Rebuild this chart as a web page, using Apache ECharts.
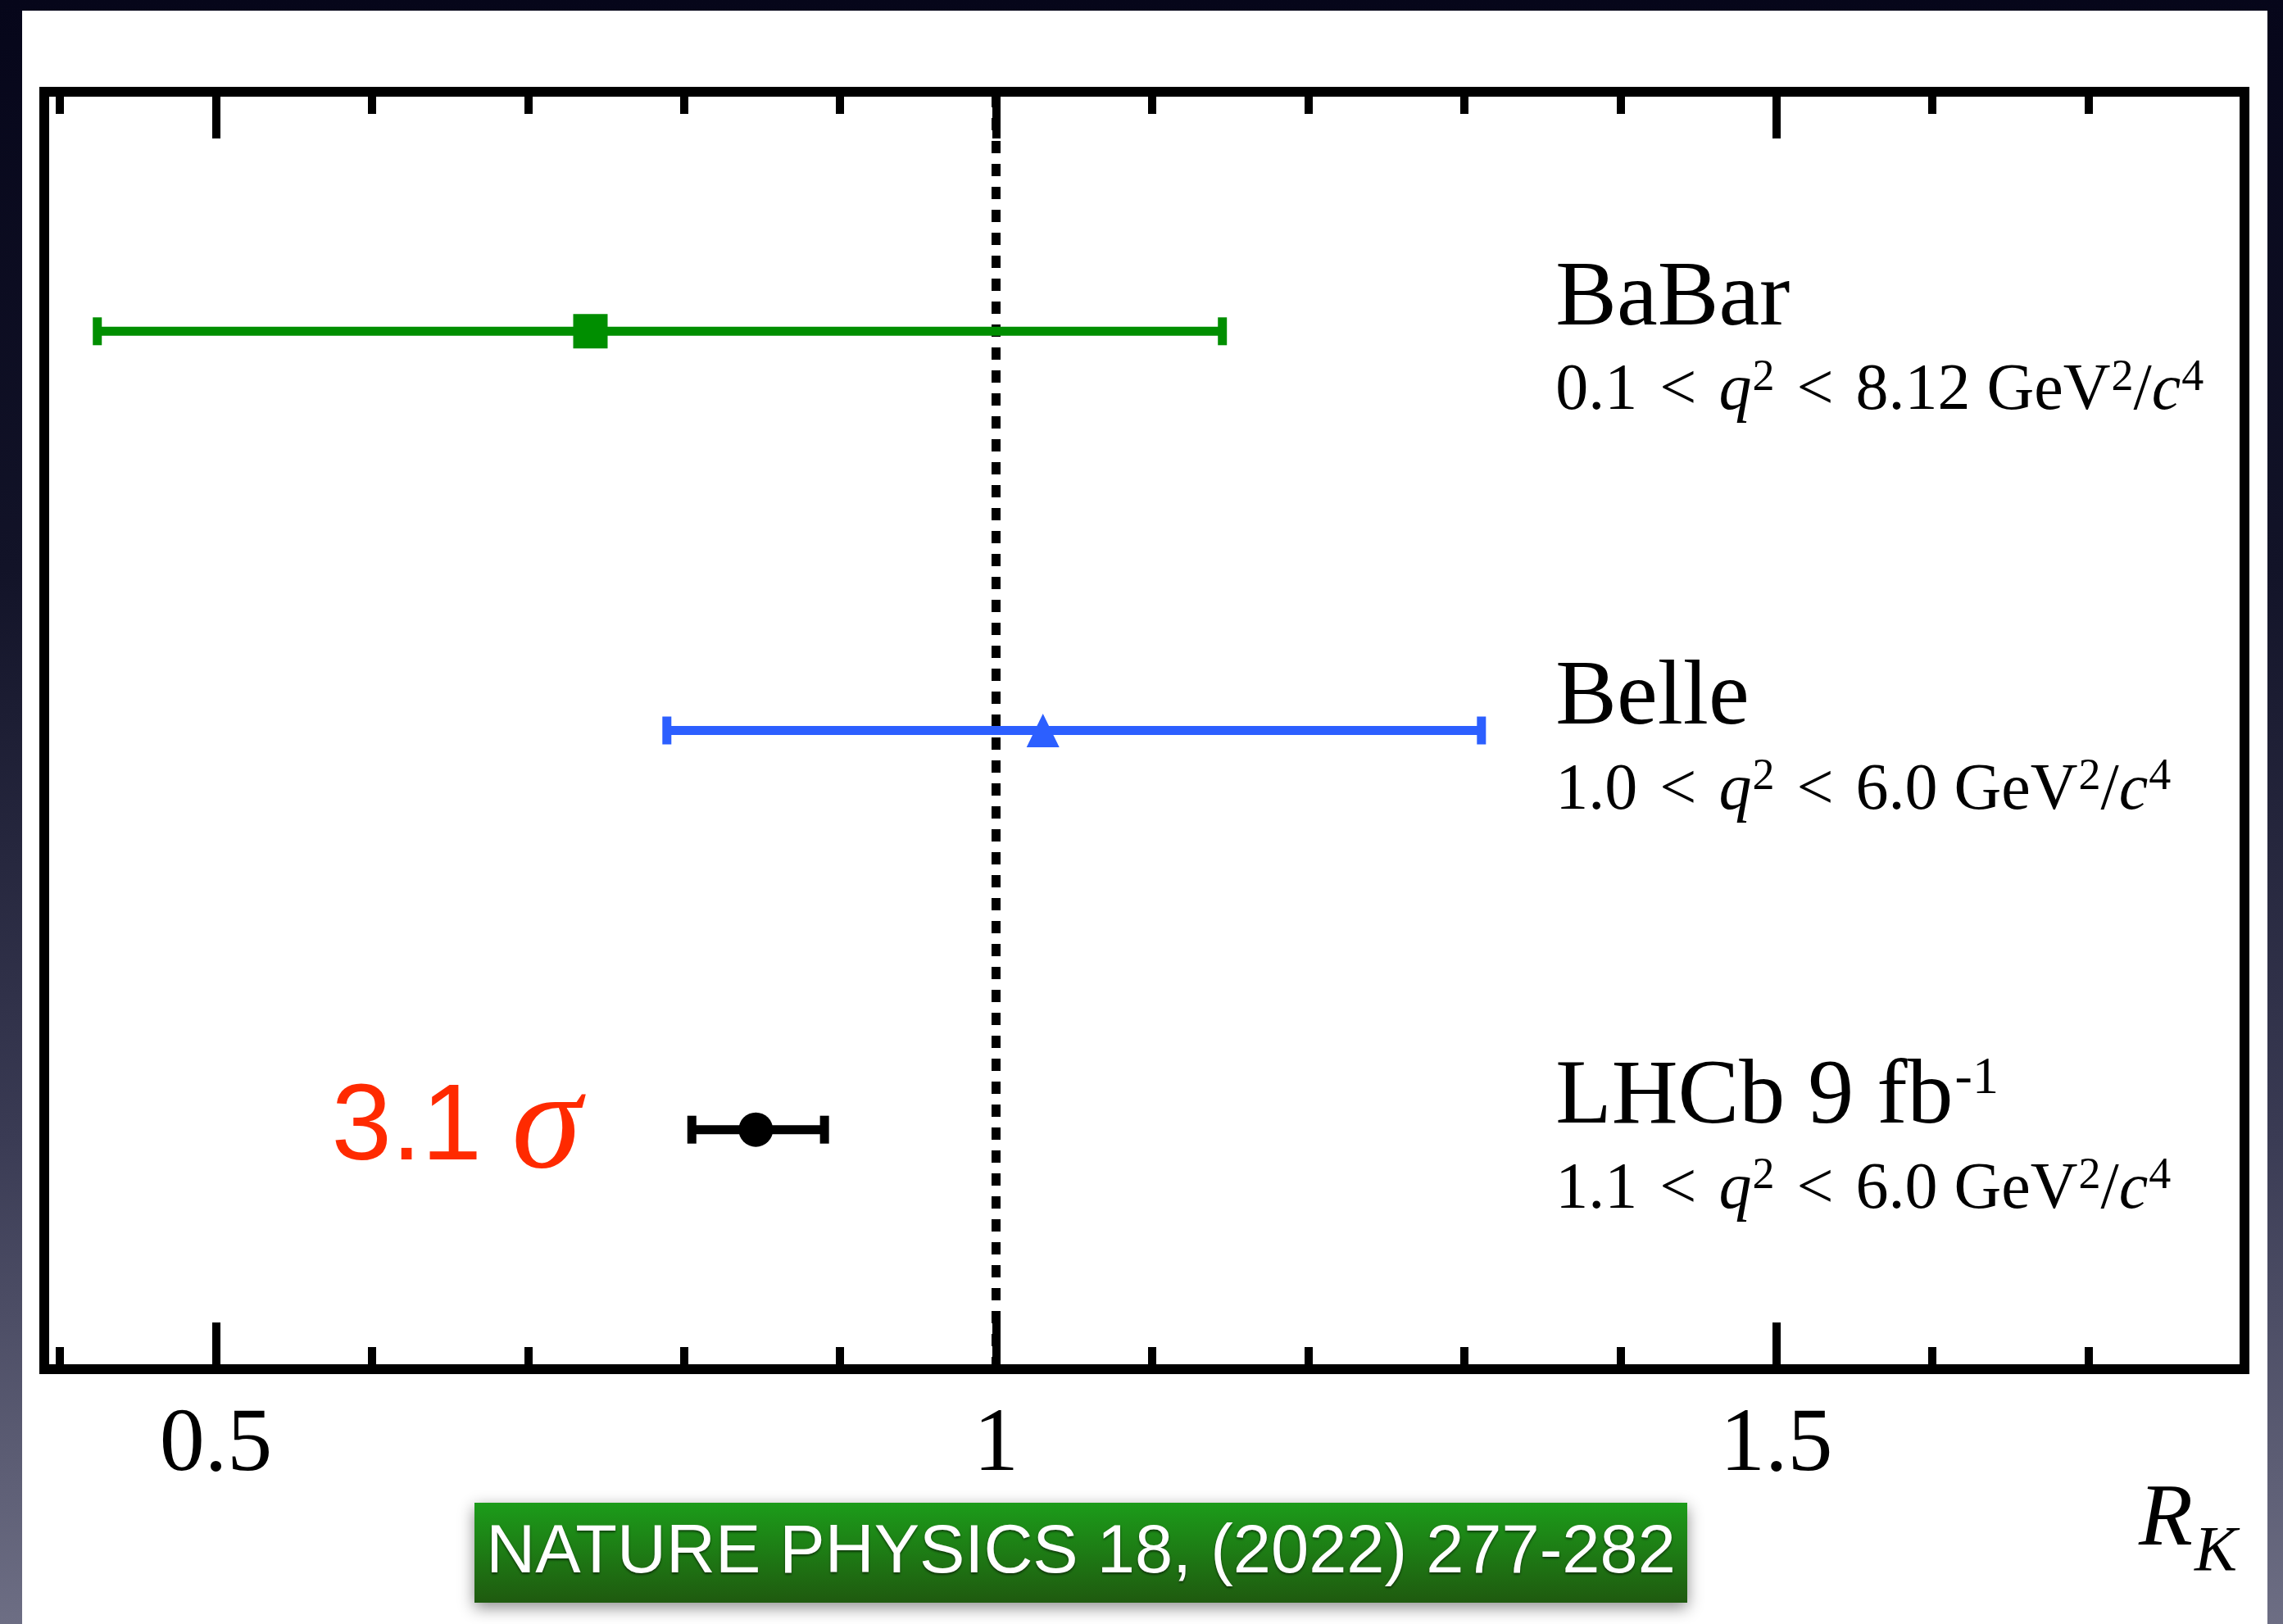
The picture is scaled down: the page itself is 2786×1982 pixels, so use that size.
<!DOCTYPE html>
<html>
<head>
<meta charset="utf-8">
<script src="https://cdn.jsdelivr.net/npm/echarts@6/dist/echarts.min.js"></script>
<style>
  html, body { margin: 0; padding: 0; }
  body {
    width: 2786px; height: 1982px; overflow: hidden; position: relative;
    background: linear-gradient(180deg, #06061a 0%, #121328 35%, #3a3b54 70%, #6d6e84 100%);
  }
  #paper { position: absolute; left: 27px; top: 13px; width: 2740px; height: 1969px; background: #ffffff; }
  #chart { position: absolute; left: 0; top: 0; width: 2786px; height: 1982px; }
</style>
</head>
<body>
<div id="paper"></div>
<div id="chart"></div>
<script>
// ---------------- data ----------------
const experiments = ['BaBar', 'Belle', 'LHCb'];
const rowPos = [3, 2, 1];
const centralRK = [0.740, 1.030, 0.846];
const lowRK = [0.424, 0.789, 0.805];
const highRK = [1.145, 1.311, 0.890];

const titleLabels = ['{t|BaBar}', '{t|Belle}', '{t|LHCb 9 fb}{tp|-1}'];
const rangeLabels = [
  '{n|0.1}{lt|<}{i|q}{s|2}{lt|<}{n|8.12 GeV}{s|2}{n|/}{i|c}{s|4}',
  '{n|1.0}{lt|<}{i|q}{s|2}{lt|<}{n|6.0 GeV}{s|2}{n|/}{i|c}{s|4}',
  '{n|1.1}{lt|<}{i|q}{s|2}{lt|<}{n|6.0 GeV}{s|2}{n|/}{i|c}{s|4}'
];
const labelX = 1.3585;
const sigmaText = '{d|3.1 }{g|σ}';
const sigmaAnchor = [0.574, 1];
const referenceValue = 1;

const majorTicks = [0.5, 1, 1.5];
const minorTicks = [0.4, 0.6, 0.7, 0.8, 0.9, 1.1, 1.2, 1.3, 1.4, 1.6, 1.7];
const xMin = 0.39, xMax = 1.8;
const yMin = 0.4, yMax = 3.6;

const bannerText = 'NATURE PHYSICS 18, (2022) 277-282';

// ---------------- styles ----------------
const markerColors = ['#008e00', '#2c5fff', '#000000'];
const markerSymbols = ['rect', 'triangle', 'circle'];
const markerSizes = [[42, 42], [40, 41], [42, 42]];
const SERIF = '"Liberation Serif", "Times New Roman", serif';
const SANS = '"Liberation Sans", Arial, sans-serif';

function xAxisCfg(pos, ticks, len, withLabel) {
  return {
    type: 'value', position: pos, min: xMin, max: xMax,
    axisLine: { show: false },
    splitLine: { show: false },
    axisTick: { show: true, inside: true, length: len, customValues: ticks,
                lineStyle: { color: '#000', width: 10, cap: 'butt' } },
    axisLabel: withLabel ? {
      show: true, customValues: ticks, margin: 39, color: '#000',
      fontFamily: SERIF, fontSize: 110
    } : { show: false }
  };
}

const bottomMajor = xAxisCfg('bottom', majorTicks, 57, true);
bottomMajor.name = '{r|R}{k|K}';
bottomMajor.nameLocation = 'end';
bottomMajor.nameGap = -9;
bottomMajor.nameTextStyle = {
  align: 'right', verticalAlign: 'top', padding: [132, 0, 0, 0],
  rich: {
    r: { fontFamily: SERIF, fontStyle: 'italic', fontSize: 108, lineHeight: 106, color: '#000', verticalAlign: 'top' },
    k: { fontFamily: SERIF, fontStyle: 'italic', fontSize: 78, lineHeight: 184, color: '#000', verticalAlign: 'middle', padding: [0, 0, 0, 2] }
  }
};

const chart = echarts.init(document.getElementById('chart'), null, { renderer: 'canvas' });

const option = {
  backgroundColor: 'transparent',
  animation: false,
  grid: {
    left: 54, right: 47, top: 112, bottom: 311, show: true,
    borderColor: '#000', borderWidth: 12, backgroundColor: 'transparent', containLabel: false
  },
  xAxis: [
    bottomMajor,
    xAxisCfg('bottom', minorTicks, 27, false),
    xAxisCfg('top', majorTicks, 57, false),
    xAxisCfg('top', minorTicks, 27, false)
  ],
  yAxis: { type: 'value', min: yMin, max: yMax, show: false, splitLine: { show: false } },
  series: [
    {
      name: 'errors', type: 'custom', xAxisIndex: 0, z: 3,
      data: experiments.map((e, i) => [lowRK[i], highRK[i], rowPos[i], i]),
      renderItem: function (params, api) {
        const a = api.coord([api.value(0), api.value(2)]);
        const b = api.coord([api.value(1), api.value(2)]);
        const col = markerColors[api.value(3)];
        const half = 17;
        const st = { stroke: col, lineWidth: 11, lineCap: 'butt' };
        return {
          type: 'group',
          children: [
            { type: 'line', shape: { x1: a[0], y1: a[1], x2: b[0], y2: b[1] }, style: st },
            { type: 'line', shape: { x1: a[0], y1: a[1] - half, x2: a[0], y2: a[1] + half }, style: st },
            { type: 'line', shape: { x1: b[0], y1: b[1] - half, x2: b[0], y2: b[1] + half }, style: st }
          ]
        };
      },
      markLine: {
        silent: true, symbol: ['none', 'none'], z: 1,
        label: { show: false },
        lineStyle: { color: '#000', width: 11, type: [15, 13], opacity: 1 },
        data: [{ xAxis: referenceValue }]
      }
    },
    {
      name: 'central', type: 'scatter', xAxisIndex: 0, z: 4,
      itemStyle: { opacity: 1 },
      data: experiments.map((e, i) => ({
        value: [centralRK[i], rowPos[i]],
        symbol: markerSymbols[i],
        symbolSize: markerSizes[i],
        itemStyle: { color: markerColors[i], opacity: 1 }
      }))
    },
    {
      name: 'labels', type: 'scatter', xAxisIndex: 0, z: 5, symbolSize: 0, silent: true,
      itemStyle: { opacity: 1 },
      data: experiments.map((e, i) => [labelX, rowPos[i]]),
      label: {
        show: true, position: 'right', distance: 0, offset: [0, 18],
        formatter: function (p) { return titleLabels[p.dataIndex] + '\n' + rangeLabels[p.dataIndex]; },
        rich: {
          t: { fontFamily: SERIF, fontSize: 112, lineHeight: 112, color: '#000', verticalAlign: 'middle' },
          tp: { fontFamily: SERIF, fontSize: 64, lineHeight: 46, color: '#000', verticalAlign: 'top', padding: [0, 0, 0, 2] },
          n: { fontFamily: SERIF, fontSize: 80, lineHeight: 112, color: '#000', verticalAlign: 'middle' },
          lt: { fontFamily: SERIF, fontSize: 80, lineHeight: 112, color: '#000', verticalAlign: 'middle', padding: [0, 27, 0, 27] },
          i: { fontFamily: SERIF, fontStyle: 'italic', fontSize: 80, lineHeight: 112, color: '#000', verticalAlign: 'middle' },
          s: { fontFamily: SERIF, fontSize: 54, lineHeight: 50, color: '#000', verticalAlign: 'top', padding: [12, 0, 0, 1] }
        }
      }
    },
    {
      name: 'sigma', type: 'scatter', xAxisIndex: 0, z: 5, symbolSize: 0, silent: true,
      itemStyle: { opacity: 1 },
      data: [sigmaAnchor],
      label: {
        show: true, position: 'right', distance: 0, offset: [0, 0],
        formatter: sigmaText,
        rich: {
          d: { fontFamily: SANS, fontSize: 132, lineHeight: 150, color: '#ff2a00', verticalAlign: 'middle' },
          g: { fontFamily: SERIF, fontStyle: 'italic', fontSize: 172, lineHeight: 150, color: '#ff2a00', verticalAlign: 'middle' }
        }
      }
    }
  ],
  graphic: [
    {
      type: 'group', z: 100,
      children: [
        {
          type: 'rect', shape: { x: 579, y: 1834, width: 1480, height: 122 },
          style: {
            fill: new echarts.graphic.LinearGradient(0, 0, 0, 1, [
              { offset: 0, color: '#1c9c1a' }, { offset: 1, color: '#1f5a0f' }
            ]),
            shadowBlur: 18, shadowColor: 'rgba(0,0,0,0.45)', shadowOffsetY: 6
          }
        },
        {
          type: 'text', x: 1319, y: 1896,
          style: {
            text: bannerText, fill: '#ffffff', font: '83px ' + SANS,
            align: 'center', verticalAlign: 'middle',
            textShadowColor: 'rgba(0,0,0,0.55)', textShadowBlur: 3, textShadowOffsetY: 2
          }
        }
      ]
    }
  ]
};
chart.setOption(option);
</script>
</body>
</html>
